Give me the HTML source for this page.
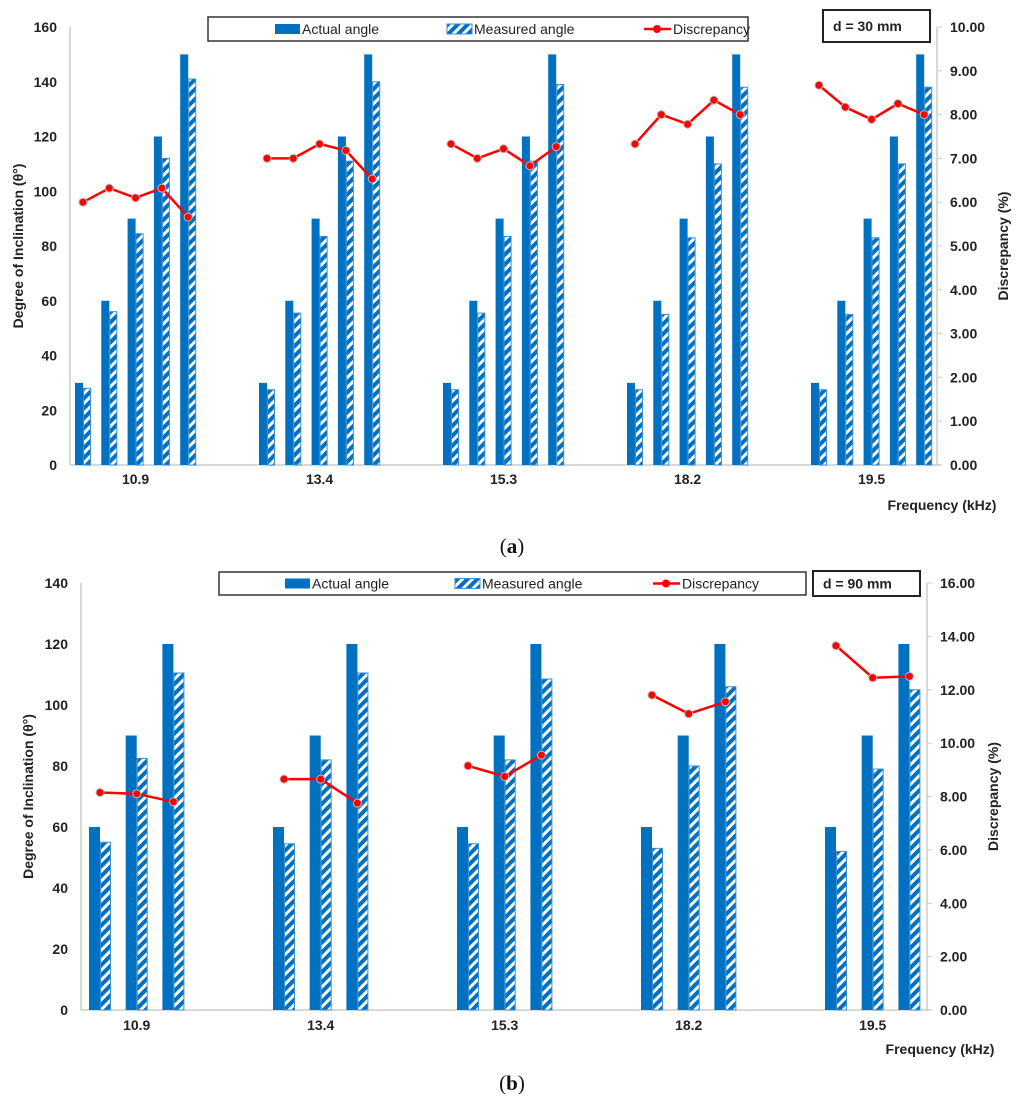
<!DOCTYPE html>
<html><head><meta charset="utf-8"><style>
html,body{margin:0;padding:0;background:#fff;}
svg{display:block;font-family:"Liberation Sans",sans-serif;}
.tk{font-size:14px;font-weight:bold;fill:#222;}
.lg{font-size:14px;fill:#222;}
</style></head><body>
<svg id="c" width="1024" height="1110" viewBox="0 0 1024 1110">
<defs>
<pattern id="hatch" patternUnits="userSpaceOnUse" width="7" height="7" patternTransform="rotate(45)">
<rect width="7" height="7" fill="#0070C0"/><rect x="0" y="0" width="3" height="7" fill="#fff"/>
</pattern>
</defs>
</svg>
<script>
const cats=["10.9","13.4","15.3","18.2","19.5"];
// chart a (d = 30 mm)
const actualA=[30,60,90,120,150];
const measuredA=[[28,56,84.5,112,141],[27.5,55.5,83.5,111,140],[27.5,55.5,83.5,111,139],[27.5,55,83,110,138],[27.5,55,83,110,138]];
const discA=[[6.0,6.32,6.1,6.32,5.66],[7.0,7.0,7.33,7.18,6.53],[7.33,7.0,7.22,6.83,7.27],[7.33,8.0,7.78,8.33,8.0],[8.67,8.17,7.89,8.25,8.0]];
const leftTicksA=[0,20,40,60,80,100,120,140,160];
const rightTicksA=[0,1,2,3,4,5,6,7,8,9,10];
// chart b (d = 90 mm)
const actualB=[60,90,120];
const measuredB=[[55,82.5,110.5],[54.5,82,110.5],[54.5,82,108.5],[53,80,106],[52,79,105]];
const discB=[[8.15,8.1,7.8],[8.65,8.65,7.75],[9.15,8.75,9.55],[11.8,11.1,11.55],[13.65,12.45,12.5]];
const leftTicksB=[0,20,40,60,80,100,120,140];
const rightTicksB=[0,2,4,6,8,10,12,14,16];

const svg=document.getElementById('c');
const NS='http://www.w3.org/2000/svg';
function mk(tag,attrs,parent,txt){const e=document.createElementNS(NS,tag);for(const k in attrs)e.setAttribute(k,attrs[k]);if(txt!==undefined)e.textContent=txt;(parent||svg).appendChild(e);return e;}

function chart(o){
  const g=mk('g',{});
  
  
  const yL=v=>o.y0-(v/o.lmax)*(o.y0-o.yTop);
  const yR=v=>o.y0-(v/o.rmax)*(o.y0-o.yTop);
  const xPair=(i,j)=>o.gx0+i*o.gstep+j*o.pstep;
  // axes
  const la=mk('line',{x1:o.xL,y1:o.yTop,x2:o.xL,y2:o.y0,stroke:'#ccc','stroke-width':1.5},g);
  
  const ra=mk('line',{x1:o.xR,y1:o.yTop,x2:o.xR,y2:o.y0,stroke:'#ccc','stroke-width':1.5},g);
  
  const xa=mk('line',{x1:o.xL,y1:o.y0,x2:o.xR+4,y2:o.y0,stroke:'#ccc','stroke-width':1.5},g);
  
  o.lt.forEach(v=>{const t=mk('text',{x:o.xL-13,y:yL(v)+5,'text-anchor':'end',class:'tk'},g,String(v));
    });
  o.rt.forEach(v=>{mk('line',{x1:o.xR,y1:yR(v),x2:o.xR+5,y2:yR(v),stroke:'#ccc'},g);
    const t=mk('text',{x:o.xR+13,y:yR(v)+5,class:'tk'},g,v.toFixed(2));
    });
  // bars
  cats.forEach((c,i)=>{
    o.actual.forEach((a,j)=>{
      const x=xPair(i,j);
      const b=mk('rect',{x:x,y:yL(a),width:o.bw,height:o.y0-yL(a),fill:'#0070C0'},g);
      
      const m=o.meas[i][j];
      const b2=mk('rect',{x:x+o.bw+0.5,y:yL(m),width:o.bw-1,height:o.y0-yL(m),fill:'url(#hatch)',stroke:'#3a8fd6','stroke-width':1},g);
      
    });
    const pts=o.disc[i].map((d,j)=>[xPair(i,j)+o.bw,yR(d)]);
    const pl=mk('polyline',{points:pts.map(p=>p.join(',')).join(' '),fill:'none',stroke:'#FF0000','stroke-width':2.5},g);
    
    pts.forEach(p=>{const ci=mk('circle',{cx:p[0],cy:p[1],r:4,fill:'#FF0000',stroke:'#bbb','stroke-width':1},g);
      });
    const lx=xPair(i,0)+(xPair(i,o.actual.length-1)+2*o.bw-xPair(i,0))/2;
    const t=mk('text',{x:lx,y:o.y0+o.lbl,'text-anchor':'middle',class:'tk'},g,c);
    
  });
  // titles
  const lt=mk('text',{x:0,y:0,transform:`translate(${o.ltx},${(o.y0+o.yTop)/2}) rotate(-90)`,'text-anchor':'middle',class:'tk'},g,'Degree of Inclination (θ°)');
  
  const rtt=mk('text',{x:0,y:0,transform:`translate(${o.rtx},${(o.y0+o.yTop)/2}) rotate(-90)`,'text-anchor':'middle',class:'tk'},g,'Discrepancy (%)');
  
  const ft=mk('text',{x:o.ftx,y:o.fty,'text-anchor':'middle',class:'tk'},g,'Frequency (kHz)');
  
  // legend
  const L=o.leg;
  const lb=mk('rect',{x:L.x,y:L.y,width:L.w,height:L.h,fill:'#fff',stroke:'#333','stroke-width':1.5},g);
  
  const cy=L.y+L.h/2;
  const s1=mk('rect',{x:L.a,y:cy-5,width:25,height:10,fill:'#0070C0'},g);
  
  const t1=mk('text',{x:L.a+27,y:cy+5,class:'lg'},g,'Actual angle');
  
  const s2=mk('rect',{x:L.m,y:cy-5,width:25,height:10,fill:'url(#hatch)',stroke:'#3a8fd6'},g);
  
  const t2=mk('text',{x:L.m+27,y:cy+5,class:'lg'},g,'Measured angle');
  
  mk('line',{x1:L.d,y1:cy,x2:L.d+27,y2:cy,stroke:'#f00','stroke-width':2.5},g);
  mk('circle',{cx:L.d+13,cy:cy,r:4,fill:'#f00'},g);
  const t3=mk('text',{x:L.d+29,y:cy+5,class:'lg'},g,'Discrepancy');
  
  const D=o.dbox;
  const db=mk('rect',{x:D.x,y:D.y,width:D.w,height:D.h,fill:'#fff',stroke:'#222','stroke-width':2},g);
  
  const dt=mk('text',{x:D.x+10,y:D.y+D.h/2+5,class:'tk'},g,D.t);
  
  const cap=mk('text',{x:512,y:o.capy,'text-anchor':'middle','font-family':'Liberation Serif, serif','font-size':21,fill:'#111'},g);
  cap.innerHTML='(<tspan font-weight="bold">'+o.cap+'</tspan>)';
  
}
chart({name:'chart-a',y0:465,yTop:27,lmax:160,rmax:10,xL:70,xR:937,lt:leftTicksA,rt:rightTicksA,
  actual:actualA,meas:measuredA,disc:discA,gx0:75,gstep:184,pstep:26.3,bw:8,lbl:19,
  ltx:23,rtx:1008,ftx:942,fty:510,
  leg:{x:208,y:17,w:540,h:24,a:275,m:447,d:644},dbox:{x:823,y:10,w:107,h:32,t:'d = 30 mm'},capy:553,cap:'a'});
chart({name:'chart-b',y0:1010,yTop:583,lmax:140,rmax:16,xL:81,xR:927,lt:leftTicksB,rt:rightTicksB,
  actual:actualB,meas:measuredB,disc:discB,gx0:89,gstep:184,pstep:36.7,bw:11,lbl:20,
  ltx:33,rtx:998,ftx:940,fty:1054,
  leg:{x:219,y:572,w:587,h:23,a:285,m:455,d:653},dbox:{x:813,y:571,w:107,h:25,t:'d = 90 mm'},capy:1090,cap:'b'});
</script>
</body></html>
